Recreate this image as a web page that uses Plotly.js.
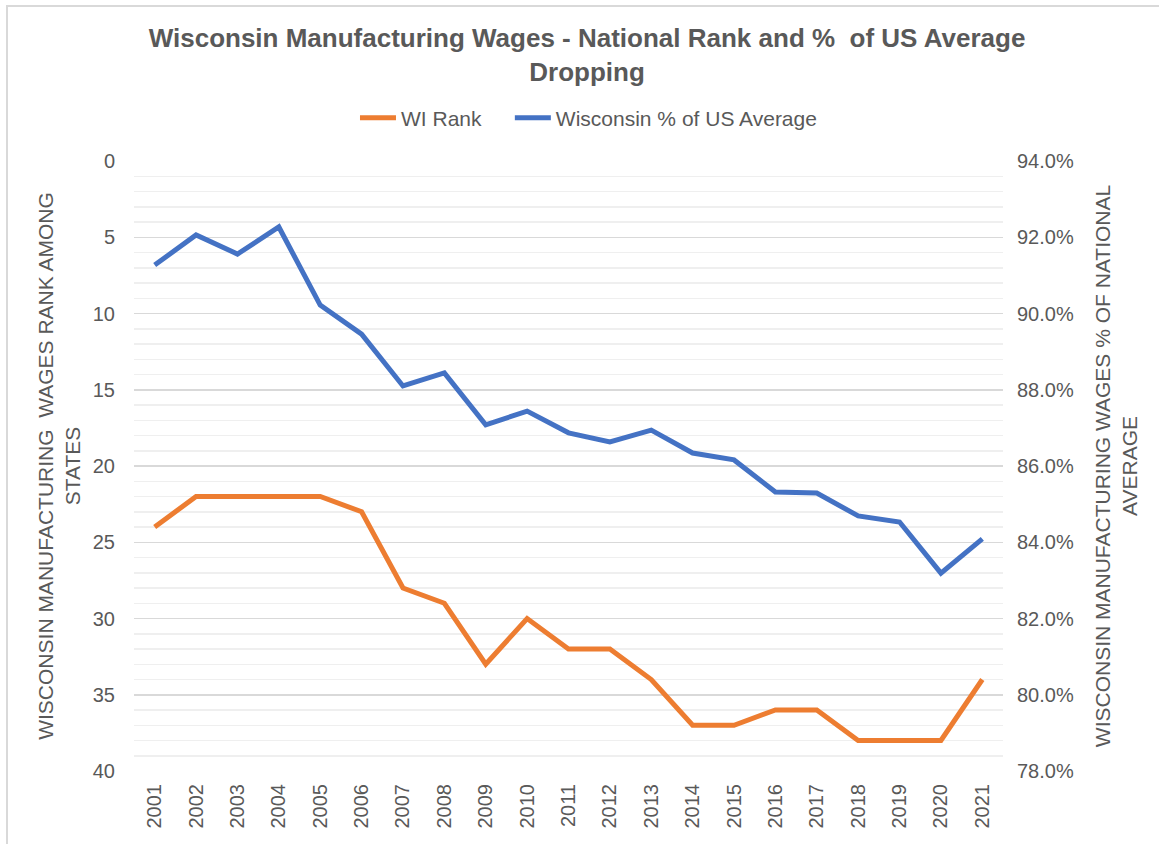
<!DOCTYPE html>
<html>
<head>
<meta charset="utf-8">
<script src="https://cdn.plot.ly/plotly-3.0.1.min.js"></script>
<style>
html,body{margin:0;padding:0;background:#fff;overflow:hidden;}
#chart{width:1159px;height:844px;}
#frame{position:absolute;left:6px;top:5px;width:1200px;height:900px;border:2px solid #d9d9d9;pointer-events:none;}
</style>
</head>
<body>
<div id="chart"></div>
<div id="frame"></div>
<script>
const years = ['2001','2002','2003','2004','2005','2006','2007','2008','2009','2010','2011','2012','2013','2014','2015','2016','2017','2018','2019','2020','2021'];
const wiRank = [24,22,22,22,22,23,28,29,33,30,32,32,34,37,37,36,36,38,38,38,34];
const wiPctOfUS = [91.27,92.06,91.56,92.27,90.22,89.46,88.10,88.44,87.08,87.44,86.87,86.63,86.94,86.34,86.16,85.32,85.29,84.69,84.53,83.19,84.09];

const txt = '#595959';
const font = 'Liberation Sans, Arial, sans-serif';
const nb = '\u00a0\u00a0\u00a0\u00a0';

const data = [
  {x: years, y: wiRank, name: 'WI Rank' + nb, type: 'scatter', mode: 'lines',
   line: {color: '#ED7D31', width: 5}, yaxis: 'y'},
  {x: years, y: wiPctOfUS, name: 'Wisconsin % of US Average', type: 'scatter', mode: 'lines',
   line: {color: '#4472C4', width: 5}, yaxis: 'y2'}
];

const layout = {
  width: 1159, height: 844,
  margin: {l: 134, r: 156, t: 161, b: 73},
  paper_bgcolor: '#fff', plot_bgcolor: '#fff',
  font: {family: font, color: txt, size: 20},
  title: {text: '<b>Wisconsin Manufacturing Wages - National Rank and %  of US Average<br>Dropping</b>',
    font: {family: font, size: 26, color: txt}, x: 0.5065, xref: 'container', xanchor: 'center',
    y: 0.9445, yref: 'container', yanchor: 'middle'},
  showlegend: true,
  legend: {orientation: 'h', x: 0.523, xref: 'paper', xanchor: 'center', y: 1.0705, yanchor: 'middle',
    font: {size: 21, color: txt}, itemwidth: 36, tracegroupgap: 0},
  xaxis: {type: 'category', range: [-0.5, 20.5], tickangle: -90, showgrid: false, zeroline: false,
    showline: false, ticks: '', ticklabelstandoff: 8, tickfont: {size: 20, color: txt}, fixedrange: true},
  yaxis: {range: [40, 0], dtick: 5, tick0: 0, showgrid: true, gridcolor: '#d9d9d9', gridwidth: 1.5,
    zeroline: false, showline: false, ticks: '', ticklabelstandoff: 18, tickfont: {size: 20, color: txt},
    minor: {dtick: 1, tick0: 0, showgrid: true, gridcolor: '#efefef', gridwidth: 1.5},
    title: {text: 'WISCONSIN MANUFACTURING  WAGES RANK AMONG<br>STATES', font: {size: 21, color: txt}, standoff: 6}},
  yaxis2: {range: [78, 94], dtick: 2, tick0: 78, overlaying: 'y', side: 'right', showgrid: false,
    zeroline: false, showline: false, ticks: '', tickformat: '.1f', ticksuffix: '%', ticklabelstandoff: 13,
    tickfont: {size: 20, color: txt},
    title: {text: 'WISCONSIN MANUFACTURING WAGES % OF NATIONAL<br>AVERAGE', font: {size: 21, color: txt}, standoff: 22}}
};

Plotly.newPlot('chart', data, layout, {displayModeBar: false, staticPlot: true});
</script>
</body>
</html>
